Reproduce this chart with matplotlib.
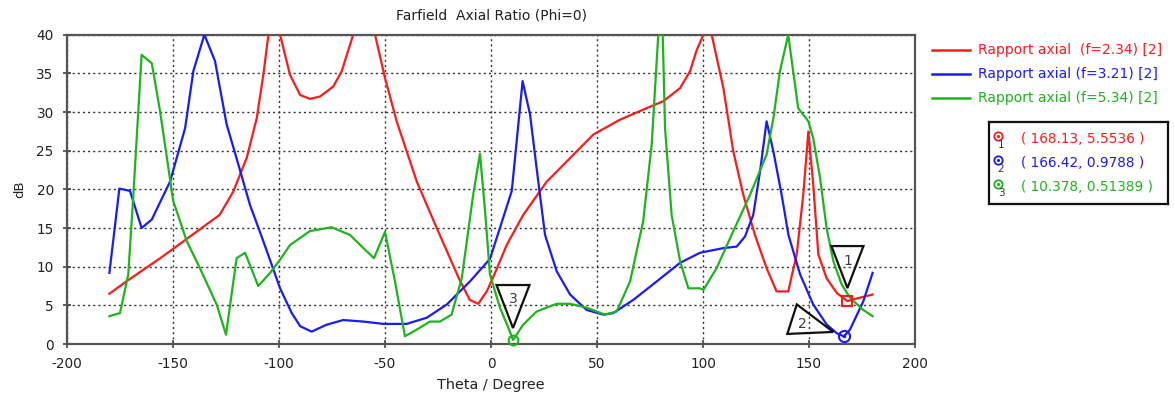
import matplotlib
matplotlib.use("Agg")
import matplotlib.pyplot as plt
import matplotlib.transforms as mtransforms
from matplotlib.patches import Polygon
from matplotlib.lines import Line2D

plt.rcParams['font.family'] = ['DejaVu Sans']
plt.rcParams['axes.unicode_minus'] = False

# ---- data: axial ratio (dB) versus theta (degrees) ----
theta_r = [-180, -172, -156, -136, -128, -121.6, -115.2, -110.5, -107.4, -105, -99.5,
           -94.8, -90, -85.4, -80.7, -74.4, -70.4, -65, -54.7, -50, -44.5, -35,
           -25.6, -15, -10, -6, -2, 1, 7.4, 15.2, 26.3, 35.7, 48.3, 60.8, 73.4,
           81.3, 89.2, 93.9, 97, 100.2, 104.1, 109.6, 114.3, 119, 124.5, 130,
           134.7, 140.2, 144.2, 147.3, 149.7, 152, 154.4, 158.3, 163.1, 168.13,
           174.1, 180]
ar_r = [6.5, 8.1, 11.1, 15.1, 16.7, 19.7, 24.1, 29.2, 34.8, 40, 40,
        34.8, 32.2, 31.7, 32.0, 33.3, 35.3, 40, 40, 34.4, 28.8, 21.0,
        15.0, 8.4, 5.7, 5.2, 6.8, 8.6, 12.8, 16.7, 21.0, 23.6, 27.1, 29.0, 30.5,
        31.4, 33.1, 35.3, 38.0, 40, 40, 33.1, 24.9, 19.3, 14.1, 9.8,
        6.8, 6.8, 11.6, 19.3, 27.5, 20.6, 11.6, 8.5, 6.6, 5.5536,
        6.0, 6.4]

theta_b = [-180, -175.3, -170.3, -164.8, -160, -151.4, -144.3, -140.4, -135.2, -130.2,
           -124.7, -120, -113.7, -107.4, -99.5, -94, -90, -84.6, -77.5, -69.7,
           -60.2, -50.8, -39.8, -30.3, -20.9, -9.9, -0.5, 4.2, 9.8, 14.9, 18.4,
           22.3, 25.5, 31, 37.3, 45.1, 53, 57.7, 67.1, 78.2, 89.2, 98.6, 109.6,
           115.9, 119.8, 123.7, 126.9, 130, 133.2, 137.1, 140.3, 145.8, 152,
           158.4, 163.1, 166.42, 169.3, 175.6, 180]
ar_b = [9.2, 20.1, 19.8, 15.0, 16.1, 21.0, 27.9, 35.3, 40, 36.6,
        28.4, 24.0, 18.0, 13.3, 7.2, 4.0, 2.3, 1.6, 2.5, 3.1,
        2.9, 2.6, 2.6, 3.4, 5.1, 8.1, 11.0, 15.0, 19.8, 34.0, 29.7,
        21.0, 14.1, 9.4, 6.4, 4.4, 3.8, 4.0, 5.7, 8.1, 10.5, 11.8, 12.4,
        12.6, 13.9, 16.7, 22.3, 28.8, 24.9, 19.3, 14.1, 9.0, 5.1,
        2.5, 1.4, 0.9788, 1.85, 5.5, 9.2]

theta_g = [-180, -175, -171.1, -168.7, -164.8, -160, -156.1, -149.9, -143.5, -137.3,
           -129.4, -125, -120, -116, -109.8, -104.2, -99.5, -94.8, -85.4, -75.2,
           -66.5, -60.2, -55.2, -50, -45.3, -40.6, -35.1, -28.8, -24.1, -18.6,
           -13.8, -8.4, -5.2, -2.8, -0.5, 4.2, 8.2, 10.378, 15.2, 21.5, 31, 37.3,
           45.1, 53.8, 59.3, 65.6, 71.8, 75.8, 78.9, 81, 82.1, 85.2, 89.2, 93.1,
           98.6, 100.2, 106.4, 114.3, 122.2, 130, 133.2, 136.3, 140.2, 144.9,
           149.7, 152, 155.2, 158.3, 161.5, 165.4, 169.3, 175.6, 180]
ar_g = [3.6, 4.0, 9.0, 19.3, 37.4, 36.3, 30.1, 18.5, 13.3, 9.8,
        5.1, 1.2, 11.1, 11.8, 7.5, 9.2, 10.9, 12.8, 14.6, 15.1,
        14.1, 12.4, 11.1, 14.5, 8.1, 1.0, 1.85, 2.9, 2.9, 3.8,
        8.5, 19.3, 24.6, 17.2, 9.0, 4.7, 2.1, 0.51389, 2.5, 4.2, 5.2, 5.2,
        4.7, 3.8, 4.2, 8.1, 15.9, 25.8, 40, 40, 27.9, 16.7, 10.7, 7.2,
        7.2, 7.0, 9.8, 14.6, 19.3, 24.5, 29.2, 35.3, 40, 30.5,
        28.8, 26.6, 21.5, 15.0, 10.7, 7.7, 6.0, 4.4, 3.6]

series_labels = ["Rapport axial  (f=2.34) [2]",
                 "Rapport axial (f=3.21) [2]",
                 "Rapport axial (f=5.34) [2]"]

# markers: (theta, value)
marker_theta = [168.13, 166.42, 10.378]
marker_value = [5.5536, 0.9788, 0.51389]
marker_text = ["( 168.13, 5.5536 )", "( 166.42, 0.9788 )", "( 10.378, 0.51389 )"]

x_ticks = list(range(-200, 201, 50))
y_ticks = list(range(0, 41, 5))

RED = "#ff1a1a"
BLUE = "#1a1aff"
GREEN = "#1eb41e"
colors = [RED, BLUE, GREEN]

W, H = 1175, 401
fig = plt.figure(figsize=(W / 100, H / 100), dpi=100, facecolor="white")


def fx(px):
    return px / W


def fy(py):
    return 1 - py / H


ax = fig.add_axes([fx(67), fy(344), fx(915) - fx(67), fy(34.7) - fy(344)])

for th, v, c in zip([theta_r, theta_b, theta_g], [ar_r, ar_b, ar_g], colors):
    ax.plot(th, v, color=c, lw=1.6, solid_joinstyle="round", zorder=3)

ax.set_xlim(-200, 200)
ax.set_ylim(0, 40)
ax.set_xticks(x_ticks)
ax.set_yticks(y_ticks)
ax.tick_params(direction="inout", length=6, width=1.2, color="#444444",
               labelsize=9.8, labelcolor="#222222", pad=6.5)
ax.grid(True, linestyle=(0, (1.5, 2.2)), color="#333333", linewidth=1.0, zorder=1)
for sp in ax.spines.values():
    sp.set_color("#555555")
    sp.set_linewidth(1.6)

ax.set_title("Farfield  Axial Ratio (Phi=0)", fontsize=10, color="#222222", pad=11)
ax.set_xlabel("Theta / Degree", fontsize=10.4, color="#222222", labelpad=5)
ax.set_ylabel("dB", fontsize=9.5, color="#222222")
ax.yaxis.set_label_coords((26 - 67) / 848, 0.5)

# marker symbols on the curves
ax.plot(marker_theta[0], marker_value[0], "s", ms=7, mfc="none", mec=RED, mew=1.5,
        zorder=5, clip_on=False)
ax.plot(marker_theta[1], marker_value[1], "o", ms=8, mfc="none", mec=BLUE, mew=1.5,
        zorder=5, clip_on=False)
ax.plot(marker_theta[1], marker_value[1], ".", ms=3, color=BLUE, zorder=5, clip_on=False)
ax.plot(marker_theta[2], marker_value[2], "o", ms=7, mfc="none", mec=GREEN, mew=1.5,
        zorder=5, clip_on=False)

# numbered triangular flags next to each marker (offsets in inches)
flags = [
    ([(-0.16, 0.55), (0.16, 0.55), (0.0, 0.13)], (0.0, 0.40), "1"),
    ([(-0.47, 0.32), (-0.565, 0.025), (-0.105, 0.045)], (-0.41, 0.12), "2"),
    ([(-0.165, 0.55), (0.165, 0.55), (0.0, 0.12)], (0.0, 0.41), "3"),
]
for (verts, tpos, lab), mx, my in zip(flags, marker_theta, marker_value):
    tr = fig.dpi_scale_trans + mtransforms.ScaledTranslation(mx, my, ax.transData)
    ax.add_patch(Polygon(verts, closed=True, fill=False, edgecolor="#111111", lw=1.6,
                         transform=tr, zorder=6, clip_on=False))
    ax.text(tpos[0], tpos[1], lab, transform=tr, ha="center", va="center",
            fontsize=10, color="#3a3a55", zorder=6)

# legend for the three curves
leg_rows = [50, 74, 98]
for lab, c, py in zip(series_labels, colors, leg_rows):
    fig.add_artist(Line2D([fx(932), fx(970)], [fy(py), fy(py)], color=c, lw=1.8,
                          transform=fig.transFigure))
    fig.text(fx(978), fy(py), lab, color=c, fontsize=10, va="center", ha="left")

# marker readout box
bx = fig.add_axes([fx(989), fy(204), fx(1168) - fx(989), fy(122) - fy(204)])
bx.set_xlim(0, 179)
bx.set_ylim(82, 0)
bx.set_xticks([])
bx.set_yticks([])
for sp in bx.spines.values():
    sp.set_color("#111111")
    sp.set_linewidth(1.6)
box_rows = [17, 41, 65]
for i, (txt, c, py) in enumerate(zip(marker_text, colors, box_rows)):
    bx.plot(9, py - 3, "o", ms=6, mfc="none", mec=c, mew=1.3)
    bx.plot(9, py - 3, ".", ms=2.5, color=c)
    bx.text(12, py + 6, str(i + 1), color="#333333", fontsize=7.5, ha="center", va="center")
    bx.text(32, py, txt, color=c, fontsize=9.8, ha="left", va="center")

fig.savefig("out.png", dpi=100, facecolor="white")
